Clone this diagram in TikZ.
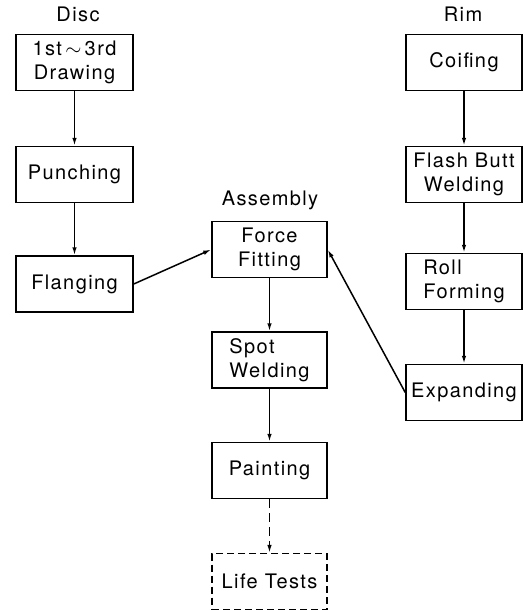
\documentclass[tikz,border=0pt]{standalone}
\usepackage{fontspec}
\setmainfont{TeX Gyre Heros}
\usetikzlibrary{arrows.meta}
\tikzset{
    >={Latex[length=8pt,width=4.5pt]},
    x=1pt, y=-1pt,
    proctext/.style={font=\fontsize{20}{24}\selectfont\addfontfeature{LetterSpace=7}},
    procbox/.style={proctext, draw, line width=1.5pt, minimum height=56pt, inner sep=2pt},
    discbox/.style={procbox, minimum width=117pt},
    asmbox/.style={procbox, minimum width=115pt},
    rimbox/.style={procbox, minimum width=116pt},
    testbox/.style={asmbox, line width=1.2pt, dash pattern=on 7pt off 4pt},
    flow/.style={->, line width=1.5pt},
    trial/.style={flow, dash pattern=on 9pt off 5pt},
}
\begin{document}
\begin{tikzpicture}
    \useasboundingbox (0,0) rectangle (524,610);
    % column titles
    \node[proctext] (t_disc) at (78,14) {Disc};
    \node[proctext] (t_asm) at (270,200) {Assembly};
    \node[proctext] (t_rim) at (463,14) {Rim};
    % disc line
    \node[discbox, align=center] (disc1) at (74.5,62.5) {1st\,$\sim$\,3rd\\Drawing};
    \node[discbox] (disc2) at (74.5,174.5) {Punching};
    \node[discbox] (disc3) at (74.5,284) {Flanging};
    % rim line
    \node[rimbox] (rim1) at (464,62.5) {Coifing};
    \node[rimbox, align=center] (rim2) at (464,174.5) {Flash Butt\\Welding};
    \node[rimbox, align=left] (rim3) at (464,281.5) {Roll\\Forming};
    \node[rimbox] (rim4) at (464,392.5) {Expanding};
    % assembly line
    \node[asmbox, align=center] (asm1) at (269.5,249.5) {Force\\Fitting};
    \node[asmbox, align=left] (asm2) at (269.5,360) {Spot\\Welding};
    \node[asmbox] (asm3) at (269.5,470.5) {Painting};
    \node[testbox] (asm4) at (269.5,581.5) {Life Tests};
    \foreach \a/\b in {disc1/disc2,disc2/disc3,rim1/rim2,rim2/rim3,rim3/rim4,asm1/asm2,asm2/asm3}
        \draw[flow] (\a) -- (\b);
    \draw[trial] (asm3) -- (asm4);
    \draw[flow] (disc3.east) -- (asm1.west);
    \draw[flow] (rim4.west) -- (asm1.east);
\end{tikzpicture}
\end{document}
